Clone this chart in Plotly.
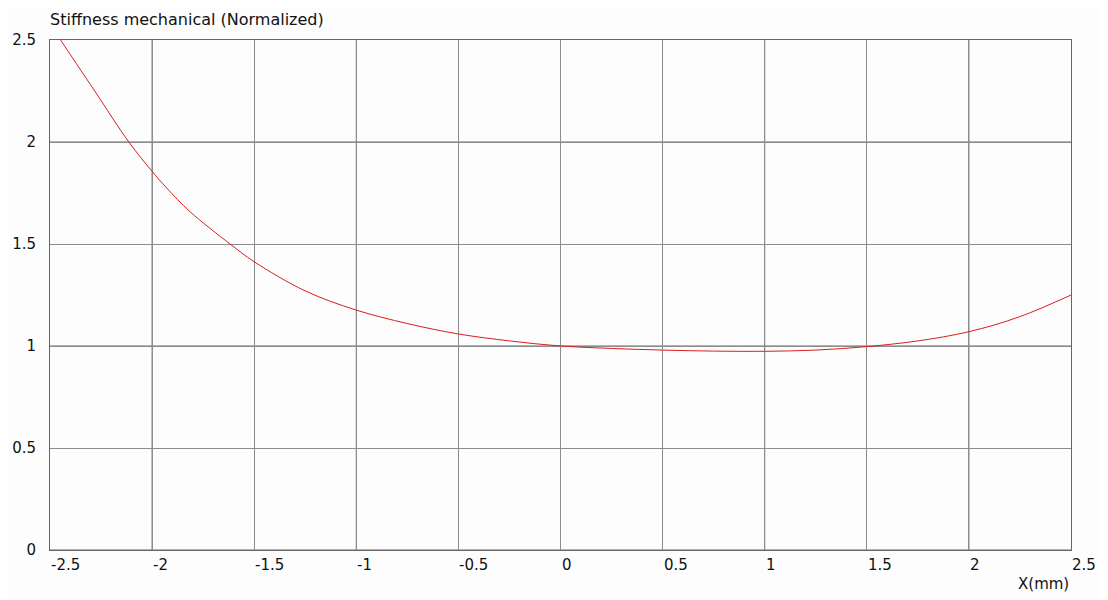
import plotly.graph_objects as go

# stiffness curve
x_mm = [-2.5, -2.448, -2.281, -2.114, -2.0, -1.929, -1.814, -1.618, -1.5, -1.25,
        -1.0, -0.75, -0.5, -0.25, 0.0, 0.25, 0.5, 0.75, 1.0, 1.25,
        1.5, 1.75, 2.0, 2.25, 2.5]
stiffness = [2.58, 2.5, 2.25, 2.0, 1.856, 1.775, 1.658, 1.5, 1.413, 1.27,
             1.176, 1.11, 1.059, 1.025, 1.0, 0.988, 0.98, 0.975, 0.974, 0.98,
             0.997, 1.025, 1.07, 1.144, 1.25]

x_ticks = [-2.5, -2, -1.5, -1, -0.5, 0, 0.5, 1, 1.5, 2, 2.5]
x_tick_labels = ["-2.5", "-2", "-1.5", "-1", "-0.5", "0", "0.5", "1", "1.5", "2", "2.5"]
y_ticks = [0, 0.5, 1, 1.5, 2, 2.5]
y_tick_labels = ["0", "0.5", "1", "1.5", "2", "2.5"]

FONT = "DejaVu Sans"
DARK = "#666666"
LIGHT = "#8c8c8c"

fig = go.Figure()
fig.add_trace(go.Scatter(x=x_mm, y=stiffness, mode="lines",
                         line=dict(color="#d81e1e", width=1, shape="spline"),
                         hoverinfo="skip"))

# whole-number gridlines are darker than the half ones
for v in x_ticks:
    if float(v).is_integer():
        fig.add_shape(type="line", xref="x", yref="paper", x0=v, x1=v, y0=0, y1=1,
                      line=dict(color=DARK, width=1), layer="between")
for v in y_ticks:
    if float(v).is_integer():
        fig.add_shape(type="line", xref="paper", yref="y", x0=0, x1=1, y0=v, y1=v,
                      line=dict(color=DARK, width=1), layer="between")

# x tick labels are left aligned on the gridlines -> annotations
for v, t in zip(x_ticks, x_tick_labels):
    fig.add_annotation(x=v, y=0, xref="x", yref="paper", text=t, showarrow=False,
                       xanchor="left", yanchor="top", yshift=-4, xshift=-1,
                       font=dict(family=FONT, size=15, color="#111"))

fig.add_annotation(x=1, y=0, xref="paper", yref="paper", text="X(mm)", showarrow=False,
                   xanchor="right", yanchor="top", yshift=-23,
                   font=dict(family=FONT, size=15, color="#111"))
fig.add_annotation(x=0, y=1, xref="paper", yref="paper",
                   text="Stiffness mechanical (Normalized)", showarrow=False,
                   xanchor="left", yanchor="top", yshift=32, xshift=-2,
                   font=dict(family=FONT, size=16, color="#111"))

fig.update_xaxes(range=[-2.5, 2.5], tickvals=x_ticks, showticklabels=False,
                 showgrid=True, gridcolor=LIGHT, gridwidth=1,
                 showline=True, linecolor=DARK, mirror=True, zeroline=False,
                 ticks="", automargin=False)
fig.update_yaxes(range=[0, 2.5], tickvals=y_ticks, ticktext=y_tick_labels,
                 showgrid=True, gridcolor=LIGHT, gridwidth=1,
                 showline=True, linecolor=DARK, mirror=True, zeroline=False,
                 ticks="", ticklabelstandoff=10, automargin=False,
                 tickfont=dict(family=FONT, size=15, color="#111"))

# page body adds 8px, so margins are trimmed to land the plot box at 50..1071 / 40..550
fig.update_layout(width=1108, height=600,
                  margin=dict(l=42, r=45, t=32, b=58),
                  paper_bgcolor="#fdfdfd", plot_bgcolor="#fdfdfd",
                  showlegend=False, font=dict(family=FONT))

fig.write_html("out.html")
